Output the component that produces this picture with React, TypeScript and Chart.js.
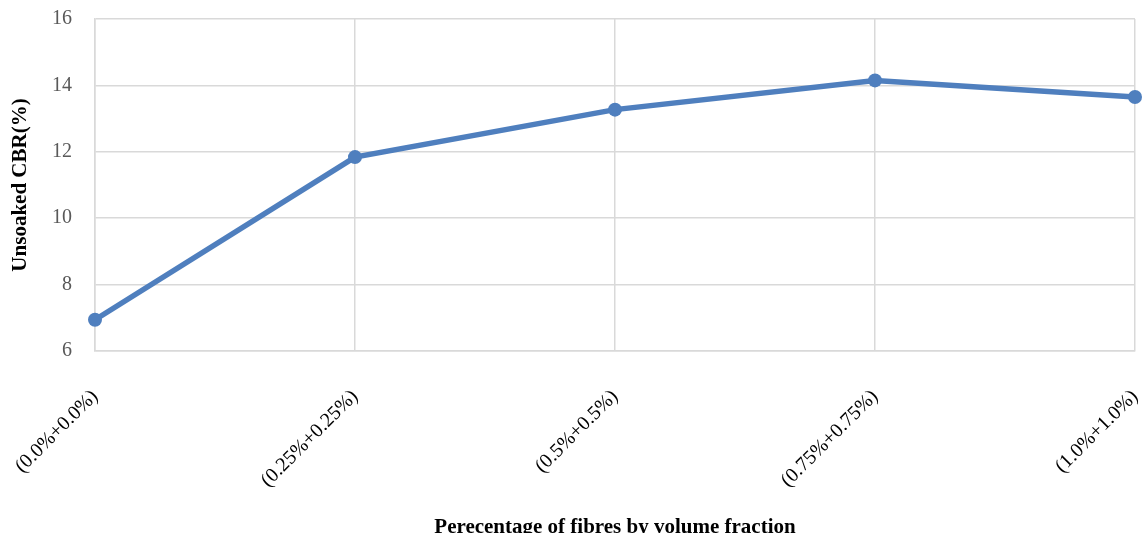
import React, { useEffect, useRef } from "react";
import { Chart, registerables } from "chart.js";

Chart.register(...registerables);

const categories = ["(0.0%+0.0%)", "(0.25%+0.25%)", "(0.5%+0.5%)", "(0.75%+0.75%)", "(1.0%+1.0%)"];
const cbrValues = [6.94, 11.84, 13.27, 14.15, 13.65];
const yMin = 6;
const yMax = 16;
const yStep = 2;
const xTitle = "Perecentage of fibres by volume fraction";
const yTitle = "Unsoaked CBR(%)";

const LINE_COLOR = "#4f7fbe";
const GRID_COLOR = "#d9d9d9";
const FONT = "'Liberation Serif', 'Times New Roman', serif";

export default function App() {
  const ref = useRef<HTMLCanvasElement | null>(null);

  useEffect(() => {
    if (!ref.current) return;
    const chart = new Chart(ref.current, {
      type: "line",
      data: {
        labels: categories,
        datasets: [
          {
            label: yTitle,
            data: cbrValues,
            borderColor: LINE_COLOR,
            backgroundColor: LINE_COLOR,
            borderWidth: 5.5,
            pointRadius: 7,
            pointBorderWidth: 0,
            pointBackgroundColor: LINE_COLOR,
            tension: 0,
          },
        ],
      },
      options: {
        responsive: false,
        animation: false,
        layout: { padding: { top: 19, right: 8, bottom: 0, left: 0 } },
        plugins: {
          legend: { display: false },
          tooltip: { enabled: false },
        },
        scales: {
          x: {
            type: "category",
            offset: false,
            grid: { color: GRID_COLOR, lineWidth: 1.5, drawTicks: false },
            border: { color: GRID_COLOR, width: 1.5 },
            ticks: {
              maxRotation: 45,
              minRotation: 45,
              autoSkip: false,
              padding: 34,
              color: "#000000",
              font: { family: FONT, size: 20 },
            },
            title: {
              display: true,
              text: xTitle,
              color: "#000000",
              font: { family: FONT, size: 21, weight: "bold", lineHeight: 0.8 },
              padding: { top: 0, bottom: -3 },
            },
            afterFit: (scale: any) => {
              scale.height = 182;
              scale.paddingLeft = 0;
              scale.paddingRight = 0;
            },
          },
          y: {
            min: yMin,
            max: yMax,
            grid: { color: GRID_COLOR, lineWidth: 1.5, drawTicks: false },
            border: { color: GRID_COLOR, width: 1.5 },
            ticks: {
              stepSize: yStep,
              padding: 23,
              color: "#595959",
              font: { family: FONT, size: 20 },
            },
            title: {
              display: true,
              text: yTitle,
              color: "#000000",
              font: { family: FONT, size: 21, weight: "bold", lineHeight: 1.2 },
              padding: { top: 8, bottom: 0 },
            },
            afterFit: (scale: any) => {
              scale.width = 95;
              scale.paddingTop = 0;
              scale.paddingBottom = 0;
            },
          },
        },
      },
    });
    return () => chart.destroy();
  }, []);

  return (
    <div style={{ position: "absolute", left: 0, top: 0, width: 1143, height: 533, background: "#ffffff" }}>
      <canvas ref={ref} width={1143} height={533} style={{ width: 1143, height: 533, display: "block" }} />
    </div>
  );
}
